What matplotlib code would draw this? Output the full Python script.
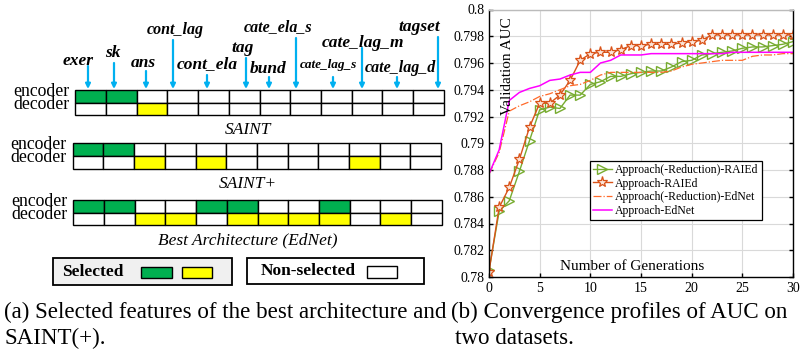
import numpy as np
import matplotlib
matplotlib.use("Agg")
import matplotlib.pyplot as plt
from matplotlib.patches import Rectangle

plt.rcParams['font.family'] = ['Liberation Serif', 'DejaVu Serif']

# ---------------- data ----------------
features = ["exer", "sk", "ans", "cont_lag", "cont_ela", "tag", "bund",
            "cate_ela_s", "cate_lag_s", "cate_lag_m", "cate_lag_d", "tagset"]
# selection masks (encoder / decoder) for each architecture
saint_enc = [1, 1, 0, 0, 0, 0, 0, 0, 0, 0, 0, 0]
saint_dec = [0, 0, 1, 0, 0, 0, 0, 0, 0, 0, 0, 0]
saintp_enc = [1, 1, 0, 0, 0, 0, 0, 0, 0, 0, 0, 0]
saintp_dec = [0, 0, 1, 0, 1, 0, 0, 0, 0, 1, 0, 0]
best_enc = [1, 1, 0, 0, 1, 1, 0, 0, 1, 0, 0, 0]
best_dec = [0, 0, 1, 1, 0, 1, 1, 1, 1, 0, 1, 0]
panel_titles = ["SAINT", "SAINT+", "Best Architecture (EdNet)"]

generations = list(range(31))
auc_nored_raied = [0.7805, 0.7849, 0.7857, 0.7879, 0.7902, 0.7925, 0.7927, 0.7926, 0.7936, 0.7936,
                   0.7944, 0.7946, 0.7950, 0.7950, 0.7952, 0.7953, 0.7954, 0.7954, 0.7957, 0.7961,
                   0.7962, 0.7966, 0.7967, 0.7968, 0.7969, 0.7971, 0.7972, 0.7972, 0.7973, 0.7974, 0.7976]
auc_raied = [0.7804, 0.7852, 0.7867, 0.7888, 0.7912, 0.7930, 0.7930, 0.7936, 0.7947, 0.7962,
             0.7967, 0.7968, 0.7968, 0.7970, 0.7973, 0.7973, 0.7974, 0.7974, 0.7974, 0.7975,
             0.7976, 0.7977, 0.7981, 0.7981, 0.7981, 0.7981, 0.7981, 0.7981, 0.7981, 0.7981, 0.7981]
auc_nored_ednet = [0.7877, 0.7893, 0.7924, 0.7928, 0.7931, 0.7935, 0.7937, 0.7940, 0.7943, 0.7944,
                   0.7947, 0.7951, 0.7953, 0.7953, 0.7953, 0.7953, 0.7953, 0.7953, 0.7954, 0.7957,
                   0.7959, 0.7960, 0.7961, 0.7962, 0.7962, 0.7962, 0.7965, 0.7966, 0.7966, 0.7967, 0.7967]
auc_ednet = [0.7877, 0.7895, 0.7932, 0.7938, 0.7941, 0.7943, 0.7947, 0.7948, 0.7951, 0.7953,
             0.7953, 0.7960, 0.7962, 0.7966, 0.7966, 0.7966, 0.7967, 0.7967, 0.7967, 0.7967,
             0.7967, 0.7967, 0.7967, 0.7967, 0.7968, 0.7968, 0.7968, 0.7968, 0.7968, 0.7968, 0.7968]
series_labels = ["Approach(-Reduction)-RAIEd", "Approach-RAIEd",
                 "Approach(-Reduction)-EdNet", "Approach-EdNet"]
ytick_vals = [0.78, 0.782, 0.784, 0.786, 0.788, 0.79, 0.792, 0.794, 0.796, 0.798, 0.8]
ytick_labels = ["0.78", "0.782", "0.784", "0.786", "0.788", "0.79", "0.792", "0.794",
                "0.796", "0.798", "0.8"]
xtick_vals = [0, 5, 10, 15, 20, 25, 30]

# ---------------- layout (pixels) ----------------
W, H = 800, 356
GREEN = "#00B050"
YELLOW = "#FFFF00"
BLUE = "#00B0F0"

fig = plt.figure(figsize=(8, 3.56), dpi=100)
bg = fig.add_axes([0, 0, 1, 1])
bg.set_xlim(0, W)
bg.set_ylim(H, 0)
bg.axis("off")

# feature labels: (text x, text y, fontsize, arrow x, arrow top y)
lab_layout = [(78, 61, 12.5, 88, 66), (113, 53, 12.5, 114, 63), (143, 63, 12.5, 146, 71),
              (175, 30, 11.5, 173, 40), (207, 64, 12.5, 207, 75), (243, 48, 12.5, 246, 58),
              (268, 69, 12.5, 269, 77), (278, 27, 11.5, 296, 38), (328, 65, 9.5, 333, 77),
              (363, 43, 12.5, 362, 48), (400, 68, 11.5, 397, 77), (419, 27, 12.5, 438, 37)]
for name, (tx, ty, fs, axx, aty) in zip(features, lab_layout):
    bg.text(tx, ty, name, fontsize=fs, fontweight="bold", fontstyle="italic",
            ha="center", va="center")
    bg.annotate("", xy=(axx, 89), xytext=(axx, aty),
                arrowprops=dict(arrowstyle="-|>", color=BLUE, lw=1.6, mutation_scale=7,
                                shrinkA=0, shrinkB=0))

grids = [(75.3, 90, saint_enc, saint_dec), (72.7, 143.3, saintp_enc, saintp_dec),
         (73.3, 200, best_enc, best_dec)]
cw, ch = 30.7, 12.6
for (x0, y0, enc, dec), title in zip(grids, panel_titles):
    for i in range(len(features)):
        bg.add_patch(Rectangle((x0 + i * cw, y0), cw, ch, fc=GREEN if enc[i] else "white",
                               ec="black", lw=1.0))
        bg.add_patch(Rectangle((x0 + i * cw, y0 + ch), cw, ch, fc=YELLOW if dec[i] else "white",
                               ec="black", lw=1.0))
    bg.text(x0 - 6, y0 + 1.5, "encoder", fontsize=12.8, ha="right", va="center")
    bg.text(x0 - 6, y0 + ch + 2, "decoder", fontsize=12.8, ha="right", va="center")
    bg.text(248, y0 + 2 * ch + 15, title, fontsize=12.5, fontstyle="italic",
            ha="center", va="center")

# legend boxes
bg.add_patch(Rectangle((53.3, 258.3), 178.4, 26.7, fc="#F0F0F0", ec="black", lw=1.3))
bg.text(93, 272, "Selected", fontsize=12.5, fontweight="bold", ha="center", va="center")
bg.add_patch(Rectangle((141, 266.7), 30.7, 11.6, fc=GREEN, ec="black", lw=1.0))
bg.add_patch(Rectangle((181.7, 266.7), 30, 11.6, fc=YELLOW, ec="black", lw=1.0))
bg.add_patch(Rectangle((246.7, 258.3), 177.3, 25.7, fc="white", ec="black", lw=1.3))
bg.text(308, 271, "Non-selected", fontsize=12.5, fontweight="bold", ha="center", va="center")
bg.add_patch(Rectangle((366.7, 265.7), 30, 12.6, fc="white", ec="black", lw=1.0))

# captions
bg.text(4, 312, "(a) Selected features of the best architecture and", fontsize=16.6,
        ha="left", va="center")
bg.text(4, 338, "SAINT(+).", fontsize=16.6, ha="left", va="center")
bg.text(451, 312, "(b) Convergence profiles of AUC on", fontsize=16.6, ha="left", va="center")
bg.text(455, 338, "two datasets.", fontsize=16.6, ha="left", va="center")

# ---------------- convergence chart ----------------
ax = fig.add_axes([489 / W, 1 - 277 / H, (793 - 489) / W, (277 - 9.5) / H])
ax.plot(generations, auc_nored_raied, color="#77AC30", lw=1.0, marker=">", ms=7.5,
        mfc="none", mec="#77AC30", mew=1.0, label=series_labels[0])
ax.plot(generations, auc_raied, color="#D95319", lw=1.0, marker="*", ms=8,
        mfc="#FBE3D6", mec="#D95319", mew=0.9, label=series_labels[1])
ax.plot(generations, auc_nored_ednet, color="#FF6A2A", lw=0.9, ls="-.",
        label=series_labels[2])
ax.plot(generations, auc_ednet, color="#FF00FF", lw=1.1, label=series_labels[3])

ax.set_xlim(0, 30)
ax.set_ylim(0.78, 0.8)
ax.set_xticks(xtick_vals)
ax.set_yticks(ytick_vals)
ax.set_yticklabels(ytick_labels)
ax.grid(True, color="#D9D9D9", lw=0.8)
ax.set_axisbelow(True)
ax.tick_params(direction="in", length=3, labelsize=10, right=True, top=False, width=1.0)
for s in ax.spines.values():
    s.set_linewidth(1.0)
ax.spines["top"].set_color("#BBBBBB")
ax.text(0.06, 0.79, "Validation AUC", transform=ax.transAxes, rotation=90,
        fontsize=11, ha="center", va="center")
ax.text(0.47, 0.04, "Number of Generations", transform=ax.transAxes,
        fontsize=11, ha="center", va="center")
leg = ax.legend(loc="lower left", bbox_to_anchor=(0.332, 0.213), borderaxespad=0,
                fontsize=8.5, frameon=True, fancybox=False, framealpha=1,
                edgecolor="black", handlelength=1.6, handletextpad=0.3,
                borderpad=0.25, labelspacing=0.15)
leg.get_frame().set_linewidth(0.9)

fig.savefig("out.png", dpi=100)
